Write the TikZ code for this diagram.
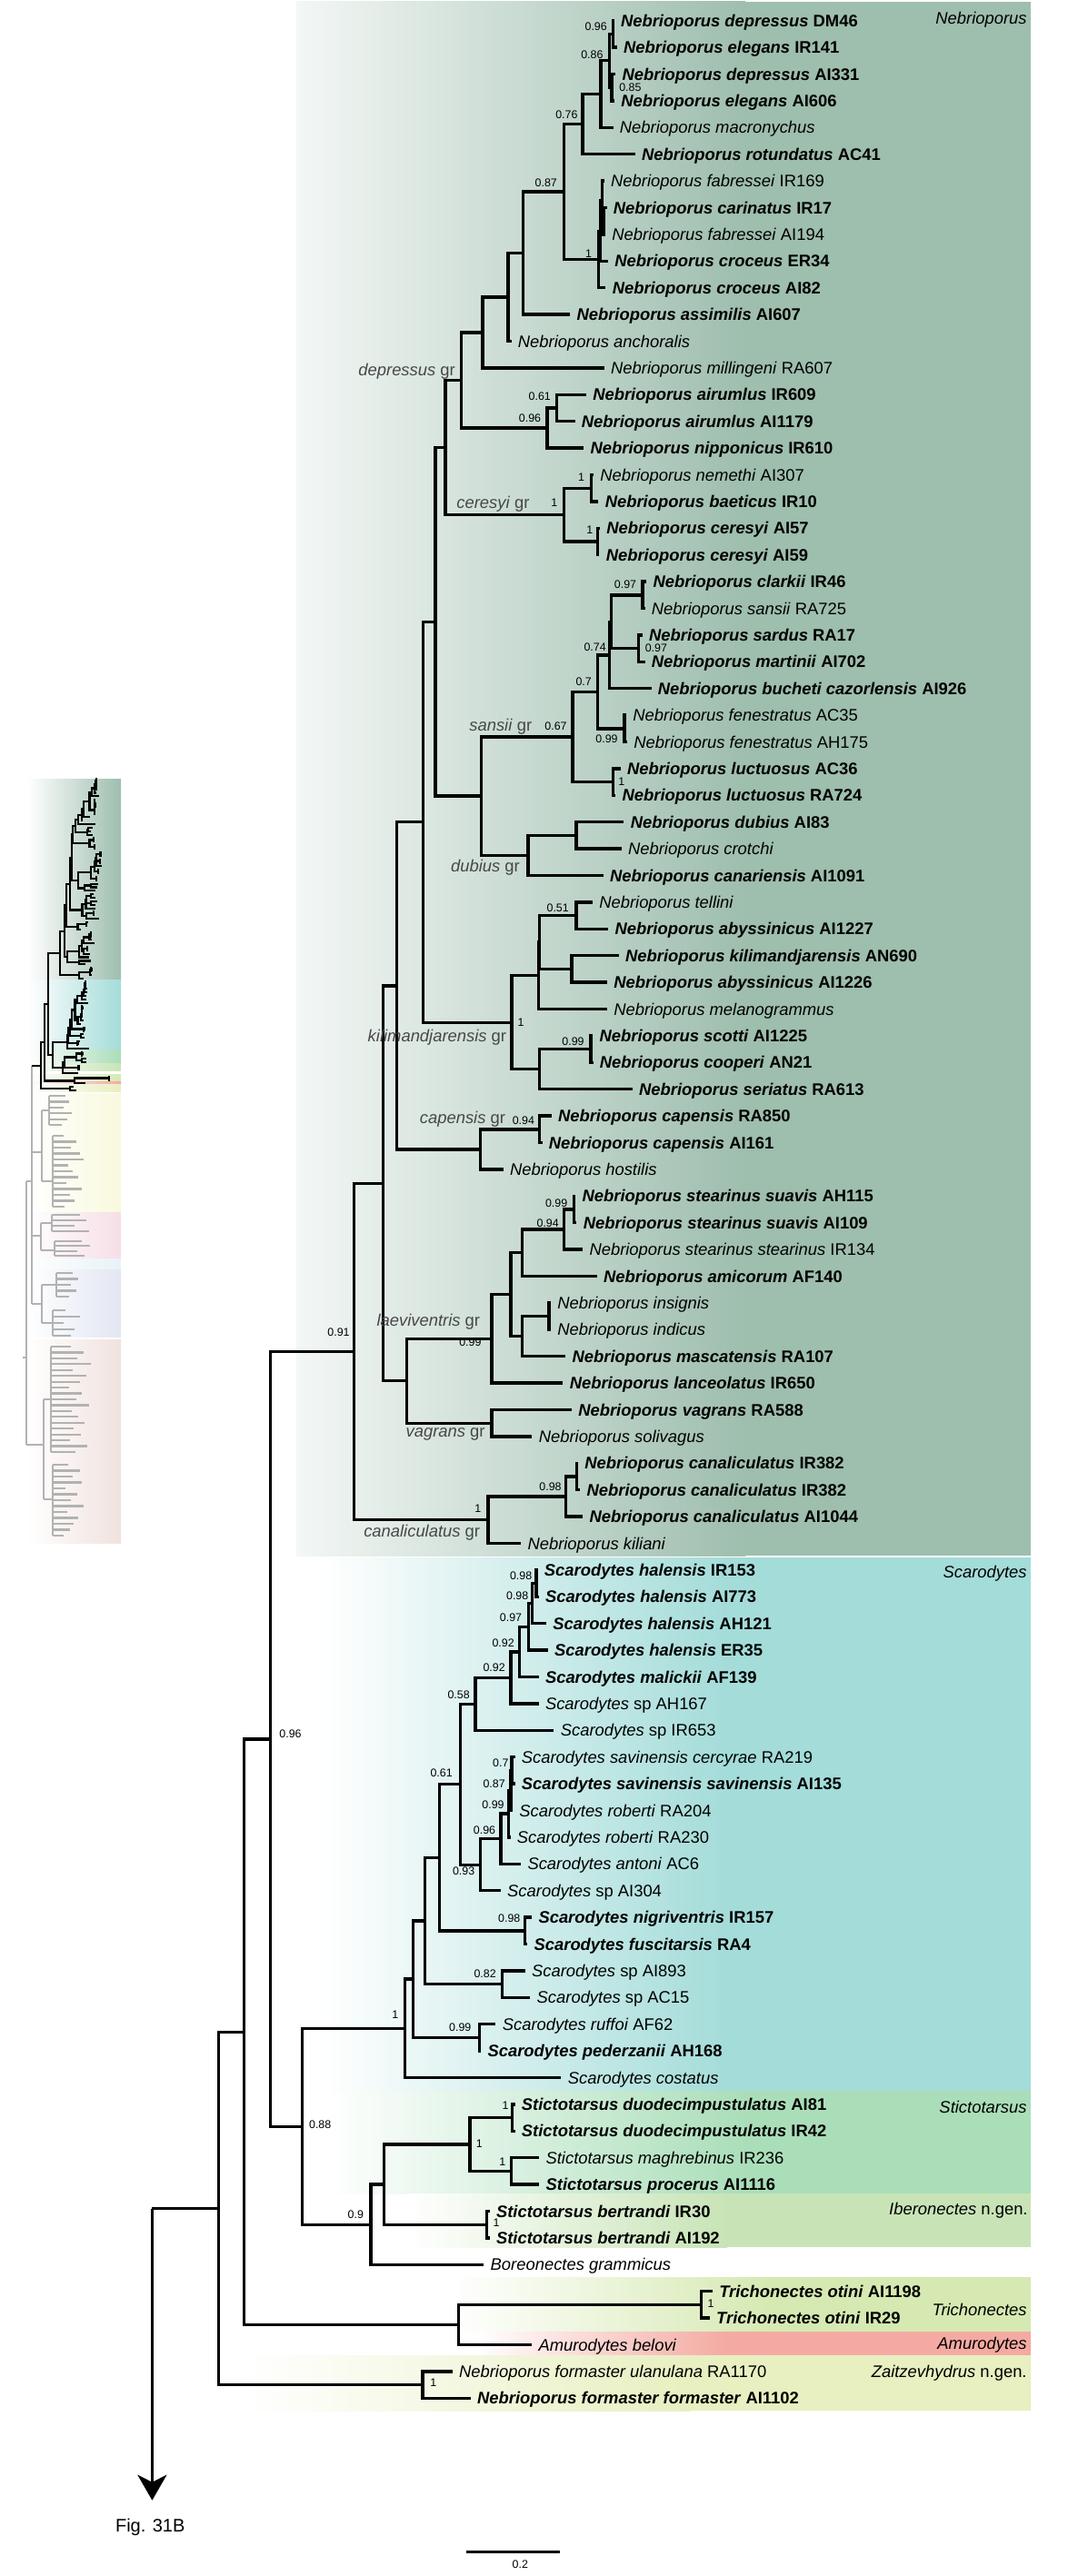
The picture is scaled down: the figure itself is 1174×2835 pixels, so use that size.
\documentclass[tikz,border=0pt]{standalone}
\usepackage{fontspec}
\setmainfont{Liberation Sans}
\usetikzlibrary{arrows.meta}
\definecolor{cNeb}{RGB}{158,190,174}
\definecolor{cSca}{RGB}{164,220,217}
\definecolor{cSti}{RGB}{170,222,185}
\definecolor{cIbe}{RGB}{200,228,183}
\definecolor{cTri}{RGB}{214,233,178}
\definecolor{cAmu}{RGB}{244,170,162}
\definecolor{cZai}{RGB}{232,239,192}
\definecolor{cYel}{RGB}{249,249,222}
\definecolor{cPnk}{RGB}{246,222,230}
\definecolor{cIce}{RGB}{232,242,247}
\definecolor{cLav}{RGB}{227,230,243}
\definecolor{cBei}{RGB}{240,226,222}
\newcommand{\lffont}{\fontsize{9.2}{11}\selectfont}
\newcommand{\nd}[3]{\coordinate (#1) at (#2,{22.7+(#3-1)*29.4});}
\newcommand{\tp}[2]{\coordinate (t#1) at (#2,{22.7+(#1-1)*29.4});}
\newcommand{\ed}[2]{\draw[br] (#1) |- (#2);}
\newcommand{\lB}[3]{\node[lf,font=\lffont\bfseries] (l#1) at (t#1) {\textit{#2} #3};}
\newcommand{\lR}[3]{\node[lf] (l#1) at (t#1) {\textit{#2} #3};}
\newcommand{\gc}[5]{\draw[gb] (#1,#2) -- (#1,#3);
  \foreach \ee [count=\k from 0] in {#5} {\draw[gb] (#1,{#2+\k*#4}) -- (\ee,{#2+\k*#4});}}
\newcommand{\drawtree}{%
\tp{1}{675.6}\tp{2}{678.8}\tp{3}{677.2}\tp{4}{676}\tp{5}{674.5}\tp{6}{698.7}
\tp{7}{664.8}\tp{8}{667.5}\tp{9}{666}\tp{10}{669}\tp{11}{666.4}\tp{12}{627.1}
\tp{13}{562.5}\tp{14}{664.8}\tp{15}{644.9}\tp{16}{632.5}\tp{17}{642.2}\tp{18}{653}
\tp{19}{658.4}\tp{20}{660}\tp{21}{659.4}\tp{22}{711.1}\tp{23}{709.5}\tp{24}{706.8}
\tp{25}{709.5}\tp{26}{716.5}\tp{27}{689}\tp{28}{690}\tp{29}{682.6}\tp{30}{677.2}
\tp{31}{686.4}\tp{32}{683.7}\tp{33}{663.7}\tp{34}{651.9}\tp{35}{669.1}\tp{36}{680.7}
\tp{37}{667.9}\tp{38}{667.9}\tp{39}{652.3}\tp{40}{652.5}\tp{41}{695.8}\tp{42}{606.6}
\tp{43}{596.5}\tp{44}{553.6}\tp{45}{633.3}\tp{46}{634.4}\tp{47}{641.1}\tp{48}{656.7}
\tp{49}{606}\tp{50}{606}\tp{51}{622.2}\tp{52}{619.4}\tp{53}{628.9}\tp{54}{585.4}
\tp{55}{636}\tp{56}{638.3}\tp{57}{641.1}\tp{58}{573.1}\tp{59}{591.5}\tp{60}{592.6}
\tp{61}{601}\tp{62}{602.7}\tp{63}{592.6}\tp{64}{592.6}\tp{65}{609.4}\tp{66}{566.5}
\tp{67}{566.5}\tp{68}{564}\tp{69}{561.5}\tp{70}{573.1}\tp{71}{550.8}\tp{72}{585.1}
\tp{73}{580.2}\tp{74}{577.7}\tp{75}{583.3}\tp{76}{545.4}\tp{77}{529.2}\tp{78}{617.4}
\tp{79}{566.5}\tp{80}{566.5}\tp{81}{593.2}\tp{82}{593.2}\tp{83}{538.6}\tp{84}{538.6}
\tp{85}{532.3}\tp{86}{783.9}\tp{87}{780.8}\tp{88}{585.1}\tp{89}{497.7}\tp{90}{517.8}
\nd{nA}{674.5}{1.5}\nd{nB}{673}{3.5}\nd{nC}{670.2}{2.5}\nd{nD}{661}{3.75}
\nd{nE}{641.1}{4.875}\nd{nF}{664}{8.5}\nd{nG}{662.7}{7.75}\nd{nH}{660.5}{8.875}
\nd{nI}{658.4}{9.9375}\nd{nJ}{620.7}{7.406}\nd{nK}{575.5}{9.703}\nd{nL}{558.8}{11.352}
\nd{nM}{530.8}{12.676}\nd{nN}{612.6}{15.5}\nd{nO}{601.8}{16.25}\nd{nP}{507.6}{14.463}
\nd{nQ}{650.3}{18.5}\nd{nR}{657.3}{20.5}\nd{nS}{620.7}{19.5}\nd{nT}{489.9}{16.98}
\nd{nU}{706.8}{22.5}\nd{nV}{702.5}{24.5}\nd{nW}{672.4}{23.5}\nd{nX}{670.7}{24.75}
\nd{nY}{686.9}{27.5}\nd{nZ}{657.3}{26.125}\nd{nAA}{674.5}{29.5}\nd{nAB}{629.8}{27.8125}
\nd{nAC}{634.1}{31.5}\nd{nAD}{580.8}{32.25}\nd{nAE}{529.2}{30.03}\nd{nAF}{479.1}{23.51}
\nd{nAG}{634.1}{34.5}\nd{nAH}{628.9}{36.5}\nd{nAI}{593.5}{35.5}\nd{nAJ}{592.2}{36.75}
\nd{nAK}{650}{39.5}\nd{nAL}{593.7}{40.25}\nd{nAM}{563.1}{38.5}\nd{nAN}{465.5}{31.0}
\nd{nAO}{593.7}{42.5}\nd{nAP}{528.5}{43.25}\nd{nAQ}{436.6}{37.13}\nd{nAR}{631.7}{45.5}
\nd{nAS}{620.5}{46.25}\nd{nAT}{574.2}{47.125}\nd{nAU}{603.8}{49.5}\nd{nAV}{574.2}{50.25}
\nd{nAW}{562}{48.6875}\nd{nAX}{540.8}{50.34}\nd{nAY}{540.8}{53.5}\nd{nAZ}{447.7}{51.92}
\nd{nBA}{421.5}{44.52}\nd{nBB}{634.4}{55.5}\nd{nBC}{622.2}{56.25}\nd{nBD}{536.9}{57.125}
\nd{nBE}{389.2}{50.82}
\nd{nCA}{589.8}{59.5}\nd{nCB}{585.4}{60.25}\nd{nCC}{581.5}{61.125}\nd{nCD}{571.5}{62.0625}
\nd{nCE}{562}{63.03}\nd{nCF}{523}{64.016}\nd{nCG}{563.1}{66.5}\nd{nCH}{562}{67.25}
\nd{nCI}{559.2}{68.125}\nd{nCJ}{550.8}{69.0625}\nd{nCK}{528.5}{70.03}\nd{nCL}{506.2}{67.02}
\nd{nCM}{577.7}{72.5}\nd{nCN}{483.5}{69.76}\nd{nCO}{552.2}{74.5}\nd{nCP}{467.2}{72.13}
\nd{nCQ}{527.4}{76.5}\nd{nCR}{454.7}{74.315}\nd{nCS}{445.4}{76.16}
\nd{nDA}{563.4}{79.5}\nd{nDB}{562.2}{81.5}\nd{nDC}{516.8}{80.5}\nd{nDD}{535.4}{83.5}
\nd{nDE}{422.4}{82}\nd{nDF}{408.1}{83.5}\nd{nDG}{332.3}{79.83}\nd{nUa}{297.5}{65.325}
\nd{nEA}{771.5}{86.5}\nd{nEB}{504.4}{87.25}\nd{nSa}{268.3}{76.29}\nd{nFA}{465.1}{89.5}
\nd{nTa}{240.4}{82.9}\nd{root}{167.4}{82.9}
\ed{nA}{t1}\ed{nA}{t2}\ed{nB}{t3}\ed{nB}{t4}\ed{nC}{nA}\ed{nC}{nB}
\ed{nD}{nC}\ed{nD}{t5}\ed{nE}{nD}\ed{nE}{t6}\ed{nF}{t8}\ed{nF}{t9}
\ed{nG}{t7}\ed{nG}{nF}\ed{nH}{nG}\ed{nH}{t10}\ed{nI}{nH}\ed{nI}{t11}
\ed{nJ}{nE}\ed{nJ}{nI}\ed{nK}{nJ}\ed{nK}{t12}\ed{nL}{nK}\ed{nL}{t13}
\ed{nM}{nL}\ed{nM}{t14}\ed{nN}{t15}\ed{nN}{t16}\ed{nO}{nN}\ed{nO}{t17}
\ed{nP}{nM}\ed{nP}{nO}\ed{nQ}{t18}\ed{nQ}{t19}\ed{nR}{t20}\ed{nR}{t21}
\ed{nS}{nQ}\ed{nS}{nR}\ed{nT}{nP}\ed{nT}{nS}
\ed{nU}{t22}\ed{nU}{t23}\ed{nV}{t24}\ed{nV}{t25}\ed{nW}{nU}\ed{nW}{nV}
\ed{nX}{nW}\ed{nX}{t26}\ed{nY}{t27}\ed{nY}{t28}\ed{nZ}{nX}\ed{nZ}{nY}
\ed{nAA}{t29}\ed{nAA}{t30}\ed{nAB}{nZ}\ed{nAB}{nAA}\ed{nAC}{t31}\ed{nAC}{t32}
\ed{nAD}{nAC}\ed{nAD}{t33}\ed{nAE}{nAB}\ed{nAE}{nAD}\ed{nAF}{nT}\ed{nAF}{nAE}
\ed{nAG}{t34}\ed{nAG}{t35}\ed{nAH}{t36}\ed{nAH}{t37}\ed{nAI}{nAG}\ed{nAI}{nAH}
\ed{nAJ}{nAI}\ed{nAJ}{t38}\ed{nAK}{t39}\ed{nAK}{t40}\ed{nAL}{nAK}\ed{nAL}{t41}
\ed{nAM}{nAJ}\ed{nAM}{nAL}\ed{nAN}{nAF}\ed{nAN}{nAM}
\ed{nAO}{t42}\ed{nAO}{t43}\ed{nAP}{nAO}\ed{nAP}{t44}\ed{nAQ}{nAN}\ed{nAQ}{nAP}
\ed{nAR}{t45}\ed{nAR}{t46}\ed{nAS}{nAR}\ed{nAS}{t47}\ed{nAT}{nAS}\ed{nAT}{t48}
\ed{nAU}{t49}\ed{nAU}{t50}\ed{nAV}{nAU}\ed{nAV}{t51}\ed{nAW}{nAT}\ed{nAW}{nAV}
\ed{nAX}{nAW}\ed{nAX}{t52}\ed{nAY}{t53}\ed{nAY}{t54}\ed{nAZ}{nAX}\ed{nAZ}{nAY}
\ed{nBA}{nAQ}\ed{nBA}{nAZ}\ed{nBB}{t55}\ed{nBB}{t56}\ed{nBC}{nBB}\ed{nBC}{t57}
\ed{nBD}{nBC}\ed{nBD}{t58}\ed{nBE}{nBA}\ed{nBE}{nBD}
\ed{nCA}{t59}\ed{nCA}{t60}\ed{nCB}{nCA}\ed{nCB}{t61}\ed{nCC}{nCB}\ed{nCC}{t62}
\ed{nCD}{nCC}\ed{nCD}{t63}\ed{nCE}{nCD}\ed{nCE}{t64}\ed{nCF}{nCE}\ed{nCF}{t65}
\ed{nCG}{t66}\ed{nCG}{t67}\ed{nCH}{nCG}\ed{nCH}{t68}\ed{nCI}{nCH}\ed{nCI}{t69}
\ed{nCJ}{nCI}\ed{nCJ}{t70}\ed{nCK}{nCJ}\ed{nCK}{t71}\ed{nCL}{nCF}\ed{nCL}{nCK}
\ed{nCM}{t72}\ed{nCM}{t73}\ed{nCN}{nCL}\ed{nCN}{nCM}\ed{nCO}{t74}\ed{nCO}{t75}
\ed{nCP}{nCN}\ed{nCP}{nCO}\ed{nCQ}{t76}\ed{nCQ}{t77}\ed{nCR}{nCP}\ed{nCR}{nCQ}
\ed{nCS}{nCR}\ed{nCS}{t78}
\ed{nDA}{t79}\ed{nDA}{t80}\ed{nDB}{t81}\ed{nDB}{t82}\ed{nDC}{nDA}\ed{nDC}{nDB}
\ed{nDD}{t83}\ed{nDD}{t84}\ed{nDE}{nDC}\ed{nDE}{nDD}\ed{nDF}{nDE}\ed{nDF}{t85}
\ed{nDG}{nCS}\ed{nDG}{nDF}\ed{nUa}{nBE}\ed{nUa}{nDG}
\ed{nEA}{t86}\ed{nEA}{t87}\ed{nEB}{nEA}\ed{nEB}{t88}
\ed{nSa}{nUa}\ed{nSa}{nEB}\ed{nFA}{t89}\ed{nFA}{t90}
\ed{nTa}{nSa}\ed{nTa}{nFA}\ed{root}{nTa}}
\begin{document}
\begin{tikzpicture}[x=0.5pt,y=-0.5pt,
  br/.style={line width=1.7pt},
  gb/.style={line width=1.1pt,draw=black!30},
  lf/.style={anchor=base west,inner sep=0pt,xshift=3.5pt,yshift=-3.3pt,font=\lffont},
  supp/.style={inner sep=0pt,font=\fontsize{6.2}{7}\selectfont},
  grp/.style={anchor=base east,inner sep=0pt,yshift=-3.3pt,text=black!72,font=\lffont},
  cld/.style={anchor=base east,inner sep=0pt,yshift=-3.3pt,font=\lffont}]
\useasboundingbox (0,0) rectangle (1174,2835);
% main backgrounds
\shade[left color=cNeb!12!white,right color=cNeb] (326,2) rectangle (820,1712);
\fill[cNeb] (819.5,2) rectangle (1134,1712);
\shade[left color=white,right color=cSca] (355,1714) rectangle (800,2301);
\fill[cSca] (799.5,1714) rectangle (1134,2301);
\shade[left color=white,right color=cSti] (361,2301) rectangle (820,2414);
\fill[cSti] (819.5,2301) rectangle (1134,2414);
\shade[left color=white,right color=cIbe] (448,2414) rectangle (800,2473);
\fill[cIbe] (799.5,2414) rectangle (1134,2473);
\shade[left color=white,right color=cTri] (498,2506) rectangle (850,2566);
\fill[cTri] (849.5,2506) rectangle (1134,2566);
\shade[left color=white,right color=cAmu] (523,2566) rectangle (800,2592);
\fill[cAmu] (799.5,2566) rectangle (1134,2592);
\shade[left color=white,right color=cZai] (268,2592) rectangle (760,2653);
\fill[cZai] (759.5,2592) rectangle (1134,2653);
% inset backgrounds
\shade[left color=white,right color=cNeb] (30,857) rectangle (133,1078);
\shade[left color=white,right color=cSca] (30,1078.7) rectangle (133,1155.7);
\shade[left color=white,right color=cSti] (30,1155.7) rectangle (133,1170.5);
\shade[left color=white,right color=cIbe] (30,1170.5) rectangle (133,1178.2);
\shade[left color=white,right color=cTri] (30,1182.5) rectangle (133,1190.4);
\shade[left color=white,right color=cAmu] (30,1190.4) rectangle (133,1193.8);
\shade[left color=white,right color=cZai] (30,1193.8) rectangle (133,1201.8);
\shade[left color=white,right color=cYel] (30,1203) rectangle (133,1333);
\shade[left color=white,right color=cPnk] (30,1334) rectangle (133,1384);
\shade[left color=white,right color=cIce] (30,1385) rectangle (133,1396);
\shade[left color=white,right color=cLav] (30,1397) rectangle (133,1471);
\shade[left color=white,right color=cBei] (30,1474) rectangle (133,1698);
% inset grey tree
\draw[gb] (25,1494) -- (29.3,1494);
\draw[gb] (29.3,1300) -- (29.3,1590);
\draw[gb] (29.3,1300) -- (35,1300);
\draw[gb] (35,1172.6) -- (35,1435);
\draw[gb] (35,1268) -- (46,1268);
\draw[gb] (46,1222) -- (46,1300);
\draw[gb] (46,1222) -- (54,1222);
\gc{54}{1206}{1238}{6.4}{72,76,70,79,74,68}
\draw[gb] (46,1300) -- (58,1300);
\gc{58}{1250}{1328}{6.5}{70,84,78,88,92,75,80,86,73,90,77,82,71}
\draw[gb] (35,1360) -- (45,1360);
\draw[gb] (45,1346) -- (45,1376);
\draw[gb] (45,1346) -- (57,1346);
\gc{57}{1337}{1355}{6}{88,95,82,98}
\draw[gb] (45,1376) -- (60,1376);
\gc{60}{1366}{1382}{5.33}{90,99,85,93}
\draw[gb] (35,1435) -- (46,1435);
\draw[gb] (46,1414) -- (46,1456);
\draw[gb] (46,1414) -- (62,1414);
\gc{62}{1401}{1427}{6.5}{80,86,78,84,76}
\draw[gb] (46,1456) -- (58,1456);
\gc{58}{1442}{1470}{7}{72,88,70,82,78}
\draw[gb] (29.3,1590) -- (48,1590);
\draw[gb] (48,1540) -- (48,1650);
\draw[gb] (48,1540) -- (56,1540);
\gc{56}{1482}{1598}{6.44}{78,92,85,100,80,95,88,76,90,84,98,79,86,93,81,89,77,96,83}
\draw[gb] (48,1650) -- (58,1650);
\gc{58}{1612}{1690}{6.5}{75,88,80,90,72,85,78,92,74,86,81,77,70}
% inset black tree (same tree, reduced)
\begin{scope}[shift={(11.6,854)},xscale=0.14,yscale=0.1311,br/.style={line width=1.1pt}]
\drawtree
\end{scope}
% main tree
\drawtree
\coordinate (arr) at (167.4,2751.7);
\draw[br,-{Stealth[length=14pt,width=16pt,inset=4pt]}] (root) -- (arr);
% leaves
\lB{1}{Nebrioporus depressus}{DM46}
\lB{2}{Nebrioporus elegans}{IR141}
\lB{3}{Nebrioporus depressus}{AI331}
\lB{4}{Nebrioporus elegans}{AI606}
\lR{5}{Nebrioporus macronychus}{}
\lB{6}{Nebrioporus rotundatus}{AC41}
\lR{7}{Nebrioporus fabressei}{IR169}
\lB{8}{Nebrioporus carinatus}{IR17}
\lR{9}{Nebrioporus fabressei}{AI194}
\lB{10}{Nebrioporus croceus}{ER34}
\lB{11}{Nebrioporus croceus}{AI82}
\lB{12}{Nebrioporus assimilis}{AI607}
\lR{13}{Nebrioporus anchoralis}{}
\lR{14}{Nebrioporus millingeni}{RA607}
\lB{15}{Nebrioporus airumlus}{IR609}
\lB{16}{Nebrioporus airumlus}{AI1179}
\lB{17}{Nebrioporus nipponicus}{IR610}
\lR{18}{Nebrioporus nemethi}{AI307}
\lB{19}{Nebrioporus baeticus}{IR10}
\lB{20}{Nebrioporus ceresyi}{AI57}
\lB{21}{Nebrioporus ceresyi}{AI59}
\lB{22}{Nebrioporus clarkii}{IR46}
\lR{23}{Nebrioporus sansii}{RA725}
\lB{24}{Nebrioporus sardus}{RA17}
\lB{25}{Nebrioporus martinii}{AI702}
\lB{26}{Nebrioporus bucheti cazorlensis}{AI926}
\lR{27}{Nebrioporus fenestratus}{AC35}
\lR{28}{Nebrioporus fenestratus}{AH175}
\lB{29}{Nebrioporus luctuosus}{AC36}
\lB{30}{Nebrioporus luctuosus}{RA724}
\lB{31}{Nebrioporus dubius}{AI83}
\lR{32}{Nebrioporus crotchi}{}
\lB{33}{Nebrioporus canariensis}{AI1091}
\lR{34}{Nebrioporus tellini}{}
\lB{35}{Nebrioporus abyssinicus}{AI1227}
\lB{36}{Nebrioporus kilimandjarensis}{AN690}
\lB{37}{Nebrioporus abyssinicus}{AI1226}
\lR{38}{Nebrioporus melanogrammus}{}
\lB{39}{Nebrioporus scotti}{AI1225}
\lB{40}{Nebrioporus cooperi}{AN21}
\lB{41}{Nebrioporus seriatus}{RA613}
\lB{42}{Nebrioporus capensis}{RA850}
\lB{43}{Nebrioporus capensis}{AI161}
\lR{44}{Nebrioporus hostilis}{}
\lB{45}{Nebrioporus stearinus suavis}{AH115}
\lB{46}{Nebrioporus stearinus suavis}{AI109}
\lR{47}{Nebrioporus stearinus stearinus}{IR134}
\lB{48}{Nebrioporus amicorum}{AF140}
\lR{49}{Nebrioporus insignis}{}
\lR{50}{Nebrioporus indicus}{}
\lB{51}{Nebrioporus mascatensis}{RA107}
\lB{52}{Nebrioporus lanceolatus}{IR650}
\lB{53}{Nebrioporus vagrans}{RA588}
\lR{54}{Nebrioporus solivagus}{}
\lB{55}{Nebrioporus canaliculatus}{IR382}
\lB{56}{Nebrioporus canaliculatus}{IR382}
\lB{57}{Nebrioporus canaliculatus}{AI1044}
\lR{58}{Nebrioporus kiliani}{}
\lB{59}{Scarodytes halensis}{IR153}
\lB{60}{Scarodytes halensis}{AI773}
\lB{61}{Scarodytes halensis}{AH121}
\lB{62}{Scarodytes halensis}{ER35}
\lB{63}{Scarodytes malickii}{AF139}
\lR{64}{Scarodytes}{sp AH167}
\lR{65}{Scarodytes}{sp IR653}
\lR{66}{Scarodytes savinensis cercyrae}{RA219}
\lB{67}{Scarodytes savinensis savinensis}{AI135}
\lR{68}{Scarodytes roberti}{RA204}
\lR{69}{Scarodytes roberti}{RA230}
\lR{70}{Scarodytes antoni}{AC6}
\lR{71}{Scarodytes}{sp AI304}
\lB{72}{Scarodytes nigriventris}{IR157}
\lB{73}{Scarodytes fuscitarsis}{RA4}
\lR{74}{Scarodytes}{sp AI893}
\lR{75}{Scarodytes}{sp AC15}
\lR{76}{Scarodytes ruffoi}{AF62}
\lB{77}{Scarodytes pederzanii}{AH168}
\lR{78}{Scarodytes costatus}{}
\lB{79}{Stictotarsus duodecimpustulatus}{AI81}
\lB{80}{Stictotarsus duodecimpustulatus}{IR42}
\lR{81}{Stictotarsus maghrebinus}{IR236}
\lB{82}{Stictotarsus procerus}{AI1116}
\lB{83}{Stictotarsus bertrandi}{IR30}
\lB{84}{Stictotarsus bertrandi}{AI192}
\lR{85}{Boreonectes grammicus}{}
\lB{86}{Trichonectes otini}{AI1198}
\lB{87}{Trichonectes otini}{IR29}
\lR{88}{Amurodytes belovi}{}
\lR{89}{Nebrioporus formaster ulanulana}{RA1170}
\lB{90}{Nebrioporus formaster formaster}{AI1102}
% support values
\node[supp] (s1) at (655.7,29.3) {0.96};
\node[supp] (s2) at (651.4,60) {0.86};
\node[supp] (s3) at (693.4,96.7) {0.85};
\node[supp] (s4) at (623.4,126) {0.76};
\node[supp] (s5) at (600.8,201.7) {0.87};
\node[supp] (s6) at (647.6,279) {1};
\node[supp] (s7) at (593.8,436.7) {0.61};
\node[supp] (s8) at (583,460) {0.96};
\node[supp] (s9) at (639.5,525) {1};
\node[supp] (s10) at (609.9,553.3) {1};
\node[supp] (s11) at (648.7,583.3) {1};
\node[supp] (s12) at (688,643.3) {0.97};
\node[supp] (s13) at (721.9,713.3) {0.97};
\node[supp] (s14) at (654.6,712.7) {0.74};
\node[supp] (s15) at (642.2,750) {0.7};
\node[supp] (s16) at (667.5,813.3) {0.99};
\node[supp] (s17) at (683.7,860) {1};
\node[supp] (s18) at (611.5,799.3) {0.67};
\node[supp] (s19) at (613.7,999) {0.51};
\node[supp] (s20) at (573.1,1125) {1};
\node[supp] (s21) at (630.5,1146) {0.99};
\node[supp] (s22) at (575.9,1233.3) {0.94};
\node[supp] (s23) at (612.1,1324) {0.99};
\node[supp] (s24) at (602.7,1346) {0.94};
\node[supp] (s25) at (372.5,1466.7) {0.91};
\node[supp] (s26) at (517.4,1477.3) {0.99};
\node[supp] (s27) at (605.5,1636.7) {0.98};
\node[supp] (s28) at (525.7,1660) {1};
\node[supp] (s29) at (573.1,1734) {0.98};
\node[supp] (s30) at (569.2,1756.7) {0.98};
\node[supp] (s31) at (562,1780) {0.97};
\node[supp] (s32) at (553.6,1808.3) {0.92};
\node[supp] (s33) at (543.6,1835) {0.92};
\node[supp] (s34) at (504.6,1865) {0.58};
\node[supp] (s35) at (319.5,1908.3) {0.96};
\node[supp] (s36) at (550.8,1940) {0.7};
\node[supp] (s37) at (485.6,1951.7) {0.61};
\node[supp] (s38) at (543.6,1963.3) {0.87};
\node[supp] (s39) at (542.5,1986) {0.99};
\node[supp] (s40) at (533,2014) {0.96};
\node[supp] (s41) at (510.1,2059.3) {0.93};
\node[supp] (s42) at (560.3,2111.7) {0.98};
\node[supp] (s43) at (533.6,2172.7) {0.82};
\node[supp] (s44) at (434.8,2217.7) {1};
\node[supp] (s45) at (506.3,2231.7) {0.99};
\node[supp] (s46) at (556,2317.3) {1};
\node[supp] (s47) at (352.2,2338.3) {0.88};
\node[supp] (s48) at (527.4,2359) {1};
\node[supp] (s49) at (552.8,2379) {1};
\node[supp] (s50) at (391.3,2437.3) {0.9};
\node[supp] (s51) at (546,2446.7) {1};
\node[supp] (s52) at (782,2535) {1};
\node[supp] (s53) at (476.8,2622.7) {1};
% group labels
\node[grp] (g1) at (501.2,406.7) {\textit{depressus} gr};
\node[grp] (g2) at (583,553.3) {\textit{ceresyi} gr};
\node[grp] (g3) at (585.7,798.3) {\textit{sansii} gr};
\node[grp] (g4) at (572.2,953.3) {\textit{dubius} gr};
\node[grp] (g5) at (557.5,1140) {\textit{kilimandjarensis} gr};
\node[grp] (g6) at (556.4,1230) {\textit{capensis} gr};
\node[grp] (g7) at (528.5,1453.3) {\textit{laeviventris} gr};
\node[grp] (g8) at (534,1575) {\textit{vagrans} gr};
\node[grp] (g9) at (528.5,1685) {\textit{canaliculatus} gr};
% clade labels
\node[cld] (c1) at (1130,20) {\textit{Nebrioporus}};
\node[cld] (c2) at (1130,1730) {\textit{Scarodytes}};
\node[cld] (c3) at (1130,2319) {\textit{Stictotarsus}};
\node[cld] (c4) at (1131,2430.7) {\textit{Iberonectes} n.gen.};
\node[cld] (c5) at (1130,2541.7) {\textit{Trichonectes}};
\node[cld] (c6) at (1130,2579) {\textit{Amurodytes}};
\node[cld] (c7) at (1130,2610) {\textit{Zaitzevhydrus} n.gen.};
% figure reference and scale bar
\node[inner sep=0pt,anchor=base,yshift=-3.6pt,font=\fontsize{10}{12}\selectfont] (fig) at (165.2,2779.3) {Fig. 31B};
\coordinate (sb1) at (512.5,2808.3);
\coordinate (sb2) at (616,2808.3);
\draw[br] (sb1) -- (sb2);
\node[supp] (sbl) at (572.3,2822) {0.2};
\end{tikzpicture}
\end{document}
